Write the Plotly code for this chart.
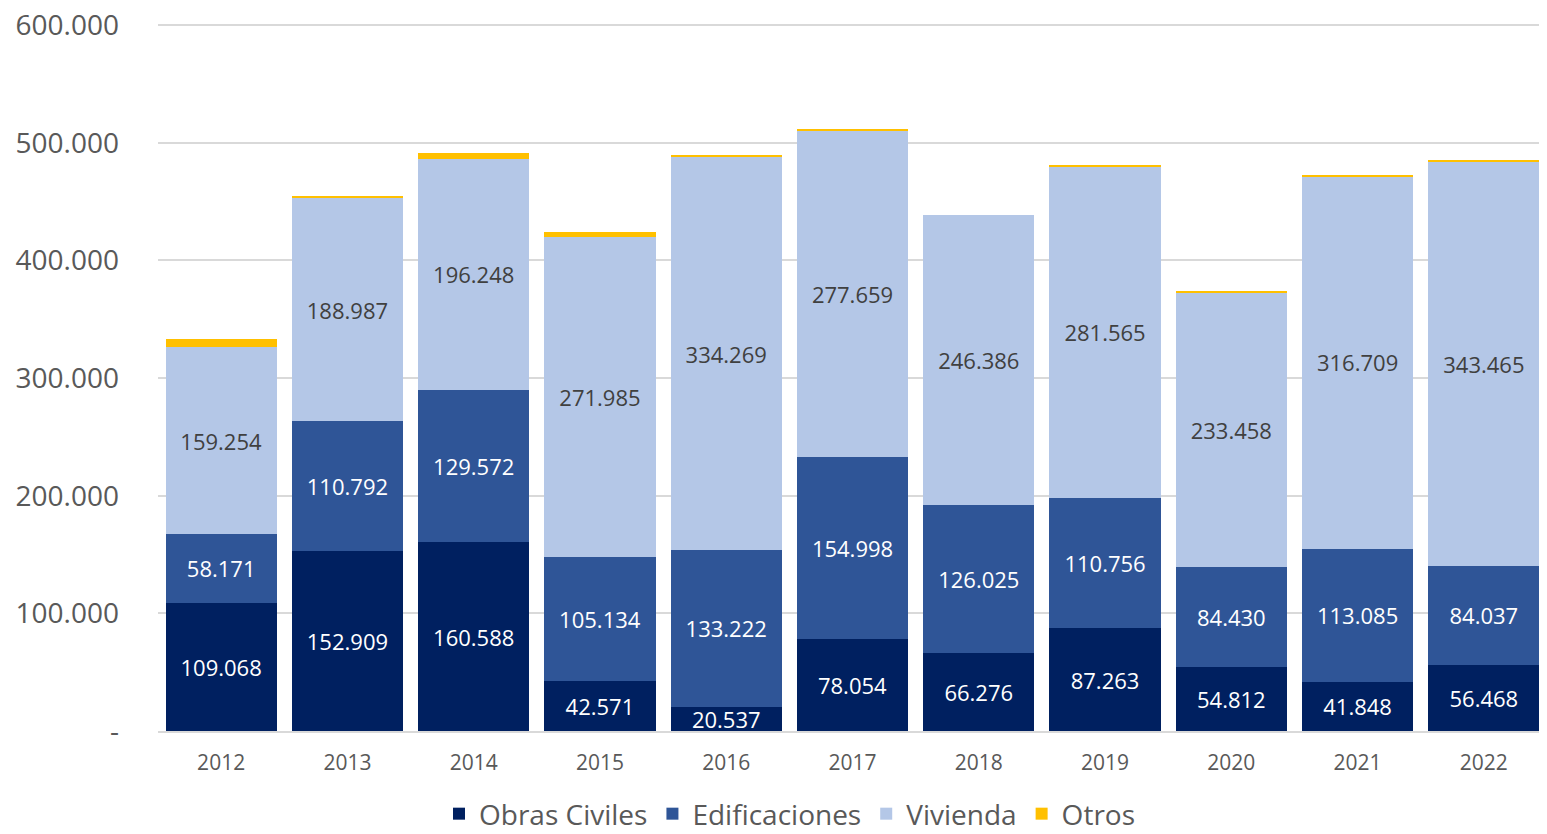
import plotly.graph_objects as go

years = ["2012", "2013", "2014", "2015", "2016", "2017", "2018", "2019", "2020", "2021", "2022"]
obras_civiles = [109068, 152909, 160588, 42571, 20537, 78054, 66276, 87263, 54812, 41848, 56468]
edificaciones = [58171, 110792, 129572, 105134, 133222, 154998, 126025, 110756, 84430, 113085, 84037]
vivienda = [159254, 188987, 196248, 271985, 334269, 277659, 246386, 281565, 233458, 316709, 343465]
otros = [6500, 2300, 5000, 4300, 1500, 1000, 0, 1000, 1000, 1200, 1000]

tick_vals = [0, 100000, 200000, 300000, 400000, 500000, 600000]
tick_text = ["-", "100.000", "200.000", "300.000", "400.000", "500.000", "600.000"]


def fmt(v):
    return f"{v:,}".replace(",", ".")


series = [
    ("Obras Civiles", obras_civiles, "#002060", "white", True),
    ("Edificaciones", edificaciones, "#2F5597", "white", True),
    ("Vivienda", vivienda, "#B4C7E7", "#404040", True),
    ("Otros", otros, "#FFC000", "#404040", False),
]

fig = go.Figure()
for name, vals, color, txtcolor, show_text in series:
    fig.add_trace(go.Bar(
        x=years,
        y=vals,
        name=name,
        marker=dict(color=color, line=dict(width=0)),
        text=[fmt(v) for v in vals] if show_text else None,
        textposition="inside" if show_text else "none",
        insidetextanchor="middle",
        textangle=0,
        textfont=dict(color=txtcolor, size=22, family="Open Sans"),
        constraintext="none",
    ))

# the page body adds an 8px offset, so the figure is a bit smaller
fig.update_layout(
    barmode="stack",
    bargap=0.12,
    width=1539,
    height=826,
    margin=dict(l=150, r=0, t=16, b=103, autoexpand=False),
    plot_bgcolor="white",
    paper_bgcolor="white",
    font=dict(family="Open Sans", color="#595959"),
    legend=dict(
        orientation="h",
        x=0.455, xanchor="center",
        y=-0.082, yanchor="top",
        font=dict(size=28, color="#595959"),
        itemwidth=30,
        traceorder="normal",
    ),
)

fig.update_yaxes(
    range=[0, 601000],
    tickvals=tick_vals,
    ticktext=tick_text,
    tickfont=dict(size=28, color="#595959"),
    showgrid=True,
    gridcolor="#D9D9D9",
    gridwidth=2,
    zeroline=False,
    ticklabelstandoff=38,
    ticklabeloverflow="allow",
    automargin=False,
)
fig.update_xaxes(
    tickfont=dict(size=21, color="#595959"),
    showline=True,
    linecolor="#D9D9D9",
    linewidth=2,
    ticklabelstandoff=12,
    automargin=False,
)

fig.write_html("out.html")
